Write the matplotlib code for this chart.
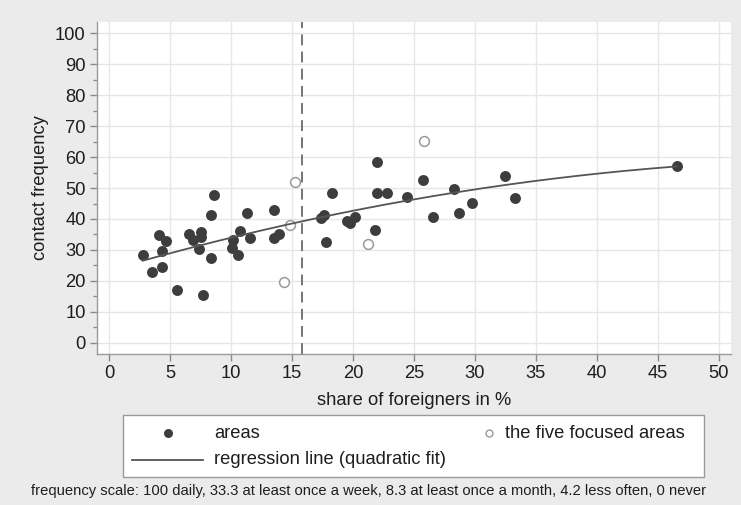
import numpy as np
import matplotlib
matplotlib.use('Agg')
import matplotlib.pyplot as plt
from matplotlib.lines import Line2D
from matplotlib.patches import Rectangle

plt.rcParams['font.family'] = ['Liberation Sans', 'DejaVu Sans']

# areas (share of foreigners in %, contact frequency)
areas_x = [2.73, 3.47, 4.10, 4.64, 4.29, 4.32, 5.57, 6.58, 6.91, 7.51, 7.57, 7.38,
           7.70, 8.36, 8.31, 8.61, 10.16, 10.05, 10.71, 10.60, 11.28, 11.53, 13.52,
           13.50, 13.96, 17.38, 17.60, 17.81, 18.31, 19.48, 19.78, 20.14, 21.78,
           22.00, 21.97, 22.79, 24.43, 25.77, 26.53, 28.31, 28.69, 29.73, 32.46,
           33.30, 46.56]
areas_y = [28.2, 22.8, 34.8, 33.0, 29.6, 24.4, 17.2, 35.3, 33.3, 35.8, 34.1, 30.4,
           15.4, 27.3, 41.4, 47.7, 33.3, 30.6, 36.1, 28.3, 41.9, 33.8, 42.9,
           33.8, 35.2, 40.2, 41.3, 32.5, 48.4, 39.3, 38.6, 40.7, 36.4,
           58.4, 48.4, 48.4, 47.0, 52.5, 40.5, 49.6, 41.8, 45.2, 53.9,
           46.9, 57.3]

# the five focused areas
focus_x = [14.32, 14.84, 15.27, 21.20, 25.87]
focus_y = [19.7, 38.2, 52.1, 31.9, 65.3]

mean_share = 15.82

x_ticks = list(range(0, 51, 5))
y_ticks = list(range(0, 101, 10))

bg = '#ebebeb'
txt = '#1e1e1e'
fs = 13.2

fig = plt.figure(figsize=(7.41, 5.05), dpi=100, facecolor=bg)
ax = fig.add_axes([0.1305, 0.299, 0.8556, 0.658])
ax.set_facecolor('white')

# quadratic fit over all areas
all_x = np.array(areas_x + focus_x)
all_y = np.array(areas_y + focus_y)
coef = np.polyfit(all_x, all_y, 2)
fx = np.linspace(all_x.min(), all_x.max(), 200)
fy = np.polyval(coef, fx)

ax.scatter(areas_x, areas_y, s=62, color='#3d3d3d', zorder=3, linewidths=0)
ax.scatter(focus_x, focus_y, s=50, facecolors='white', edgecolors='#9a9a9a',
           linewidths=1.1, zorder=3)
ax.plot(fx, fy, color='#555555', lw=1.3, zorder=4)
ax.axvline(mean_share, color='#6a6a6a', lw=1.3, dashes=(6, 3.5), zorder=2)

ax.set_xlim(-1.03, 51.0)
ax.set_ylim(-3.66, 103.8)
ax.set_xticks(x_ticks)
ax.set_yticks(y_ticks)
ax.set_yticks(np.arange(5, 100, 10), minor=True)
ax.grid(True, color='#e6e6e6', lw=1.0)
ax.set_axisbelow(True)

for s in ['top', 'right']:
    ax.spines[s].set_visible(False)
for s in ['left', 'bottom']:
    ax.spines[s].set_color('#9a9a9a')
    ax.spines[s].set_linewidth(1.0)
ax.tick_params(axis='both', which='major', labelsize=fs, color='#8a8a8a',
               length=5, width=1.0, labelcolor=txt, pad=3)
ax.tick_params(axis='y', which='minor', color='#8a8a8a', length=3, width=1.0)

ax.set_xlabel('share of foreigners in %', fontsize=fs, color=txt, labelpad=7)
ax.set_ylabel('contact frequency', fontsize=fs, color=txt, labelpad=4)

# legend drawn in figure pixels
W, H = 741.0, 505.0
def fx_(px):
    return px / W
def fy_(py):
    return 1 - py / H

fig.add_artist(Rectangle((fx_(123.3), fy_(477.3)), fx_(704.3) - fx_(123.3),
                         fy_(415) - fy_(477.3), transform=fig.transFigure,
                         facecolor='white', edgecolor='#9a9a9a', lw=1.0))
fig.add_artist(Line2D([fx_(167.7)], [fy_(433.3)], marker='o', markersize=6.5,
                      color='#3d3d3d', markeredgewidth=0, transform=fig.transFigure))
fig.add_artist(Line2D([fx_(489.3)], [fy_(433.3)], marker='o', markersize=5,
                      markerfacecolor='white', markeredgecolor='#9a9a9a',
                      markeredgewidth=1.0, transform=fig.transFigure))
fig.add_artist(Line2D([fx_(132.3), fx_(202.7)], [fy_(460), fy_(460)],
                      color='#555555', lw=1.3, transform=fig.transFigure))
fig.text(fx_(214.3), fy_(433.3), 'areas', fontsize=fs, va='center', color=txt)
fig.text(fx_(505), fy_(433.3), 'the five focused areas', fontsize=fs, va='center',
         color=txt)
fig.text(fx_(214.3), fy_(460), 'regression line (quadratic fit)', fontsize=fs,
         va='center', color=txt)

fig.text(0.5 * (fx_(27) + fx_(711)), fy_(491),
         'frequency scale: 100 daily, 33.3 at least once a week, 8.3 at least once a month, 4.2 less often, 0 never',
         fontsize=10.6, ha='center', va='center', color=txt)

fig.savefig('out.png', dpi=100, facecolor=bg)
